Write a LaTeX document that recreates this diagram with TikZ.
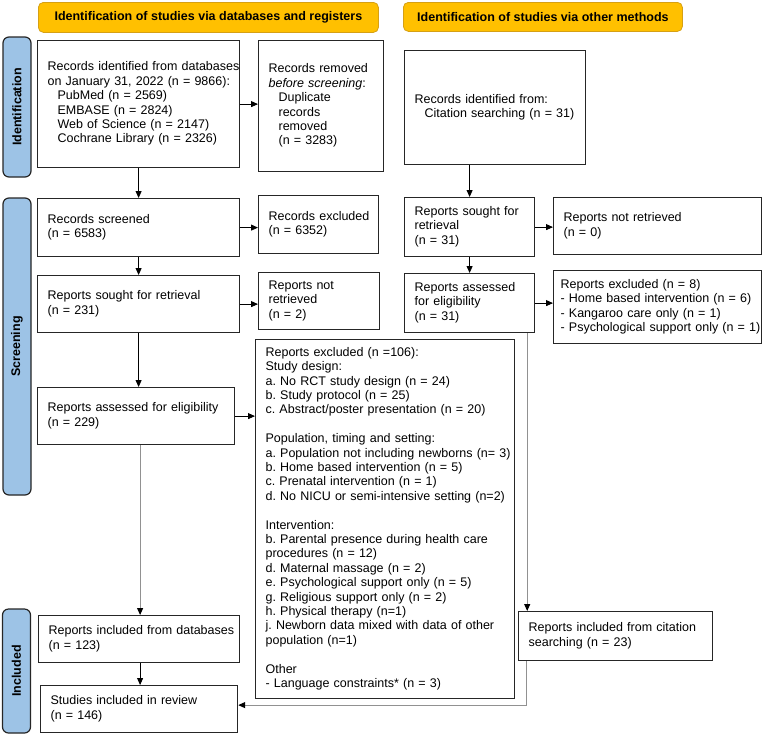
\documentclass[tikz,border=0pt]{standalone}
\usepackage{fontspec}
\setmainfont{Liberation Sans}
\usetikzlibrary{arrows.meta}
\definecolor{gold}{RGB}{255,192,0}
\definecolor{golddark}{RGB}{214,160,20}
\definecolor{phase}{RGB}{157,195,230}
\definecolor{link}{RGB}{145,145,145}
\newcommand{\rows}[1]{\begin{tabular}{@{}l@{}}#1\end{tabular}}
\frenchspacing

\begin{document}
\begin{tikzpicture}[x=1pt,y=-1pt,font=\fontsize{12.5}{14.4}\selectfont,
  box/.style={draw=black!85,line width=1.2pt,anchor=north west,align=left,inner xsep=10pt,inner ysep=0pt},
  head/.style={draw=golddark,fill=gold,rounded corners=5pt,line width=0.8pt,anchor=north west,font=\fontsize{12.5}{14.4}\selectfont\bfseries},
  phasebar/.style={draw=black!85,fill=phase,rounded corners=6pt,line width=1.2pt,rotate=90,minimum height=28pt,font=\fontsize{12.5}{14.4}\selectfont\bfseries},
  arr/.style={-{Triangle[length=7pt,width=6pt,color=black]},line width=0.8pt},
  garr/.style={arr,draw=link,line width=1pt}]
\useasboundingbox (0,0) rectangle (762,734);

\node[head,minimum width=340pt,minimum height=30pt] (hdrdb) at (38,2) {Identification of studies via databases and registers};
\node[head,minimum width=279pt,minimum height=29pt] (hdrother) at (403,2) {Identification of studies via other methods};

\node[phasebar,minimum width=140pt] (barid) at (17,107) {Identification};
\node[phasebar,minimum width=297pt] (barscr) at (17,346.5) {Screening};
\node[phasebar,minimum width=124pt] (barinc) at (16.5,671) {Included};

\node[box,text width=182pt,minimum height=127pt] (ident) at (37,40) {\rows{Records identified from databases\\ on January 31, 2022 (n = 9866):\\ \hspace*{10pt}PubMed (n = 2569)\\ \hspace*{10pt}EMBASE (n = 2824)\\ \hspace*{10pt}Web of Science (n = 2147)\\ \hspace*{10pt}Cochrane Library (n = 2326)}};
\node[box,text width=105pt,minimum height=131pt] (removed) at (258,40) {\rows{Records removed\\ \textit{before screening}:\\ \hspace*{10pt}Duplicate\\ \hspace*{10pt}records\\ \hspace*{10pt}removed\\ \hspace*{10pt}(n = 3283)}};
\node[box,text width=161pt,minimum height=114pt] (citid) at (404,50) {\rows{Records identified from:\\ \hspace*{10pt}Citation searching (n = 31)}};

\node[box,text width=182pt,minimum height=58pt] (screened) at (37,198) {\rows{Records screened\\ (n = 6583)}};
\node[box,text width=100pt,minimum height=58pt] (recexcl) at (258,195) {\rows{Records excluded\\ (n = 6352)}};
\node[box,text width=182pt,minimum height=57pt] (sought) at (37,275) {\rows{Reports sought for retrieval\\ (n = 231)}};
\node[box,text width=101pt,minimum height=57pt] (notretr) at (258,272) {\rows{Reports not\\ retrieved\\ (n = 2)}};
\node[box,text width=177pt,minimum height=57pt] (assessed) at (37,387) {\rows{Reports assessed for eligibility\\ (n = 229)}};

\node[box,text width=110pt,minimum height=59pt] (soughtc) at (404,197) {\rows{Reports sought for\\ retrieval\\ (n = 31)}};
\node[box,text width=188pt,minimum height=57pt] (notretrc) at (553,197) {\rows{Reports not retrieved\\ (n = 0)}};
\node[box,text width=110pt,minimum height=59pt] (assessedc) at (404,273) {\rows{Reports assessed\\ for eligibility\\ (n = 31)}};
\node[box,inner xsep=7pt,text width=194pt,minimum height=73pt] (exclc) at (553,270) {\rows{Reports excluded (n = 8)\\ - Home based intervention (n = 6)\\ - Kangaroo care only (n = 1)\\ - Psychological support only (n = 1)}};

\node[box,text width=239pt,minimum height=359pt] (exclbig) at (255,339) {\rows{Reports excluded (n =106):\\ Study design:\\ a. No RCT study design (n = 24)\\ b. Study protocol (n = 25)\\ c. Abstract/poster presentation (n = 20)\\ \\ Population, timing and setting:\\ a. Population not including newborns (n= 3)\\ b. Home based intervention (n = 5)\\ c. Prenatal intervention (n = 1)\\ d. No NICU or semi-intensive setting (n=2)\\ \\ Intervention:\\ b. Parental presence during health care\\ procedures (n = 12)\\ d. Maternal massage (n = 2)\\ e. Psychological support only (n = 5)\\ g. Religious support only (n = 2)\\ h. Physical therapy (n=1)\\ j. Newborn data mixed with data of other\\ population (n=1)\\ \\ Other\\ - Language constraints* (n = 3)}};

\node[box,text width=181pt,minimum height=47pt] (incldb) at (38,615) {\rows{Reports included from databases\\ (n = 123)}};
\node[box,text width=174pt,minimum height=49pt] (inclcit) at (518,611) {\rows{Reports included from citation\\ searching (n = 23)}};
\node[box,text width=177pt,minimum height=47pt] (studies) at (40,685) {\rows{Studies included in review\\ (n = 146)}};

\draw[arr] (ident.south) -- (screened.north);
\draw[arr] (ident.east) -- (ident.east -| removed.west);
\draw[arr] (screened.east) -- (screened.east -| recexcl.west);
\draw[arr] (screened.south) -- (sought.north);
\draw[arr] (sought.east) -- (sought.east -| notretr.west);
\draw[arr] (sought.south) -- (sought.south |- assessed.north);
\draw[arr] (assessed.east) -- (assessed.east -| exclbig.west);
\draw[garr] ([xshift=4pt]assessed.south) -- ([xshift=4pt]assessed.south |- incldb.north);
\draw[arr] ([xshift=4pt]assessed.south |- incldb.south) -- ([xshift=4pt]assessed.south |- studies.north);

\draw[arr] (soughtc.north |- citid.south) -- (soughtc.north);
\draw[arr] (soughtc.east) -- (soughtc.east -| notretrc.west);
\draw[arr] (soughtc.south) -- (assessedc.north);
\draw[arr] (assessedc.east) -- (assessedc.east -| exclc.west);
\draw[garr] ([xshift=-8pt]assessedc.south east) -- ([xshift=-8pt]assessedc.south east |- inclcit.north);
\draw[garr] ([xshift=8pt]inclcit.south west) |- ([yshift=4pt]studies.east);

\end{tikzpicture}
\end{document}
